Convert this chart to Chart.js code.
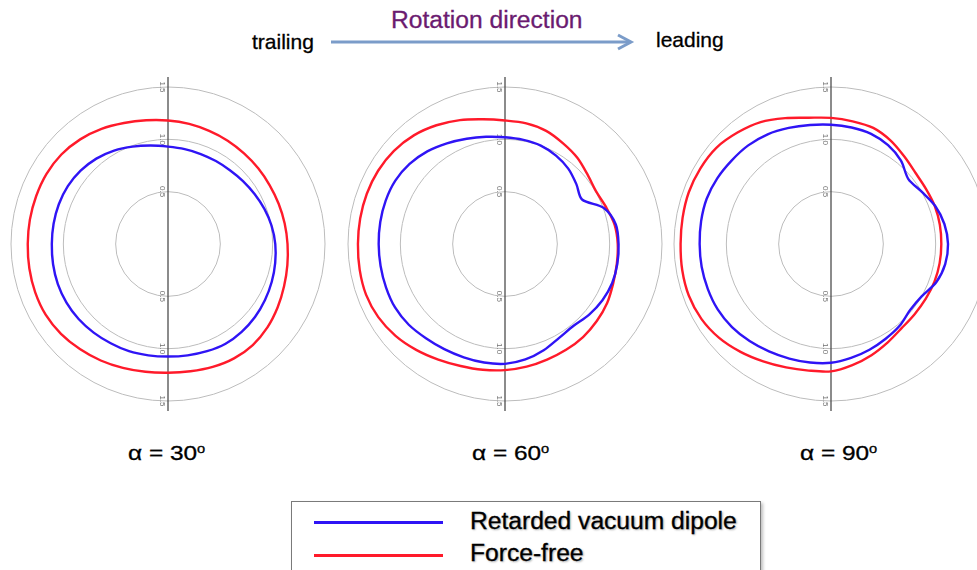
<!DOCTYPE html>
<html>
<head>
<meta charset="utf-8">
<script src="https://cdn.jsdelivr.net/npm/chart.js@4.4.1/dist/chart.umd.min.js"></script>
<style>
  html, body { margin: 0; padding: 0; background: #fff; overflow: hidden; }
  body { width: 977px; height: 570px; position: relative; font-family: "Liberation Sans", Arial, sans-serif; }
  .polar { position: absolute; top: 74px; }
  .txt { position: absolute; white-space: nowrap; line-height: 1; color: #000; transform-origin: 0 0; -webkit-text-stroke: 0.3px currentColor; }
  .alpha { font-size: 20px; transform: scaleX(1.22); }
  .alpha sup { font-size: 12px; vertical-align: 0; position: relative; top: -7px; }
  .legend-box { position: absolute; left: 291px; top: 501px; width: 468px; height: 90px; border: 1.5px solid #7a7a7a; box-shadow: 2px 2px 3px rgba(0,0,0,0.25); }
  .legend-line { position: absolute; left: 314px; width: 129px; height: 3px; }
  .legend-txt { font-size: 23px; transform: scaleX(1.07); text-shadow: 1px 1px 2px rgba(0,0,0,0.35); }
</style>
</head>
<body>

<div class="txt" style="left:252px;top:31px;font-size:21px;">trailing</div>
<div class="txt" style="left:391px;top:9px;font-size:23px;color:#6b1b70;transform:scaleX(1.07);">Rotation direction</div>
<div class="txt" style="left:656px;top:29px;font-size:21px;">leading</div>
<svg style="position:absolute;left:325px;top:30px;" width="315" height="26">
  <line x1="6" y1="12" x2="305" y2="12" stroke="#7b9cc9" stroke-width="3"/>
  <polyline points="293,5 306,12 293,19" fill="none" stroke="#7b9cc9" stroke-width="3"/>
</svg>

<canvas id="p30" class="polar" width="340" height="340" style="left:-2px;"></canvas>
<canvas id="p60" class="polar" width="340" height="340" style="left:335px;"></canvas>
<canvas id="p90" class="polar" width="340" height="340" style="left:661px;"></canvas>

<div class="txt alpha" style="left:128px;top:443px;">α = 30<sup>o</sup></div>
<div class="txt alpha" style="left:472px;top:443px;">α = 60<sup>o</sup></div>
<div class="txt alpha" style="left:800px;top:443px;">α = 90<sup>o</sup></div>

<div class="legend-box"></div>
<div class="legend-line" style="top:521px;background:#2f14f5;"></div>
<div class="legend-line" style="top:554px;background:#ff1a2a;"></div>
<div class="txt legend-txt" style="left:470px;top:510px;">Retarded vacuum dipole</div>
<div class="txt legend-txt" style="left:470px;top:542px;">Force-free</div>

<script>
// angle around the star, degrees clockwise from top
const angles = [0, 10, 20, 30, 40, 50, 60, 70, 80, 90, 100, 110, 120, 130, 140, 150, 160, 170,
                180, 190, 200, 210, 220, 230, 240, 250, 260, 270, 280, 290, 300, 310, 320, 330, 340, 350];
const tickVals = [0.5, 1.0, 1.5];

// alpha = 30
const vacuum30 = [0.93, 0.92, 0.915, 0.915, 0.92, 0.935, 0.955, 0.98, 1.005, 1.025, 1.04, 1.055, 1.07, 1.085, 1.095, 1.10, 1.09, 1.08,
                  1.075, 1.08, 1.09, 1.095, 1.105, 1.115, 1.12, 1.12, 1.115, 1.11, 1.11, 1.11, 1.105, 1.09, 1.065, 1.03, 0.99, 0.955];
const forceFree30 = [1.18, 1.165, 1.15, 1.14, 1.13, 1.125, 1.122, 1.125, 1.132, 1.142, 1.158, 1.18, 1.21, 1.24, 1.26, 1.262, 1.25, 1.235,
                     1.23, 1.24, 1.26, 1.285, 1.31, 1.335, 1.35, 1.35, 1.345, 1.34, 1.34, 1.34, 1.34, 1.33, 1.305, 1.27, 1.23, 1.20];

// alpha = 60
const vacuum60 = [1.02, 1.01, 1.00, 0.975, 0.94, 0.89, 0.85, 1.005, 1.075, 1.085, 1.09, 1.09, 1.075, 1.05, 1.02, 1.035, 1.08, 1.12,
                  1.145, 1.15, 1.152, 1.16, 1.175, 1.20, 1.213, 1.21, 1.207, 1.207, 1.21, 1.213, 1.21, 1.19, 1.155, 1.11, 1.07, 1.04];
const forceFree60 = [1.18, 1.17, 1.15, 1.11, 1.075, 1.03, 1.005, 1.028, 1.063, 1.077, 1.085, 1.10, 1.127, 1.145, 1.16, 1.167, 1.175, 1.19,
                     1.205, 1.22, 1.24, 1.275, 1.32, 1.365, 1.398, 1.413, 1.41, 1.405, 1.405, 1.405, 1.40, 1.385, 1.355, 1.31, 1.26, 1.21];

// alpha = 90
const vacuum90 = [1.14, 1.13, 1.12, 1.09, 1.04, 0.965, 1.00, 1.06, 1.10, 1.118, 1.108, 1.07, 1.00, 0.985, 1.02, 1.045, 1.075, 1.105,
                  1.135, 1.15, 1.165, 1.185, 1.21, 1.235, 1.25, 1.253, 1.255, 1.255, 1.26, 1.264, 1.255, 1.24, 1.23, 1.21, 1.18, 1.155];
const forceFree90 = [1.205, 1.19, 1.18, 1.14, 1.09, 1.055, 1.049, 1.056, 1.056, 1.054, 1.054, 1.052, 1.046, 1.043, 1.05, 1.085, 1.13, 1.175,
                     1.217, 1.228, 1.255, 1.295, 1.345, 1.395, 1.43, 1.445, 1.443, 1.437, 1.44, 1.446, 1.442, 1.43, 1.39, 1.345, 1.28, 1.225];

// vertical axis through the centre + rotated radius labels
const axisPlugin = {
    id: 'vaxis',
    beforeDatasetsDraw(chart) {
        const r = chart.scales.r
        const ctx = chart.ctx
        const outer = r.getDistanceFromCenterForValue(1.5)
        ctx.save()
        ctx.strokeStyle = '#4d4d4d'
        ctx.lineWidth = 1.3
        ctx.beginPath()
        ctx.moveTo(r.xCenter, r.yCenter - outer - 10)
        ctx.lineTo(r.xCenter, r.yCenter + outer + 10)
        ctx.stroke()
        ctx.fillStyle = '#707070'
        ctx.font = '8px "Liberation Sans", Arial, sans-serif'
        ctx.textAlign = 'center'
        ctx.textBaseline = 'top'
        tickVals.forEach(v => {
            const d = r.getDistanceFromCenterForValue(v)
            ;[-1, 1].forEach(side => {
                ctx.save()
                ctx.translate(r.xCenter - 2, r.yCenter + side * d)
                ctx.rotate(Math.PI / 2)
                ctx.fillText(v.toFixed(1), 0, 0)
                ctx.restore()
            })
        })
        ctx.restore()
    }
}

function makePolar(id, vacuum, forceFree) {
    return new Chart(document.getElementById(id), {
        type: 'radar',
        data: {
            labels: angles,
            datasets: [
                { label: 'Retarded vacuum dipole', data: vacuum, borderColor: '#2f14f5' },
                { label: 'Force-free', data: forceFree, borderColor: '#ff1a2a' }
            ]
        },
        options: {
            responsive: false,
            animation: false,
            layout: { padding: 13 },
            elements: {
                point: { radius: 0 },
                line: { borderWidth: 2.4, tension: 0.3, fill: false }
            },
            plugins: {
                legend: { display: false },
                tooltip: { enabled: false }
            },
            scales: {
                r: {
                    min: 0,
                    max: 1.5,
                    ticks: { display: false, stepSize: 0.5 },
                    grid: { circular: true, color: '#bcbcbc', lineWidth: 1 },
                    angleLines: { display: false },
                    pointLabels: { display: false }
                }
            }
        },
        plugins: [axisPlugin]
    })
}

makePolar('p30', vacuum30, forceFree30)
makePolar('p60', vacuum60, forceFree60)
makePolar('p90', vacuum90, forceFree90)
</script>
</body>
</html>
